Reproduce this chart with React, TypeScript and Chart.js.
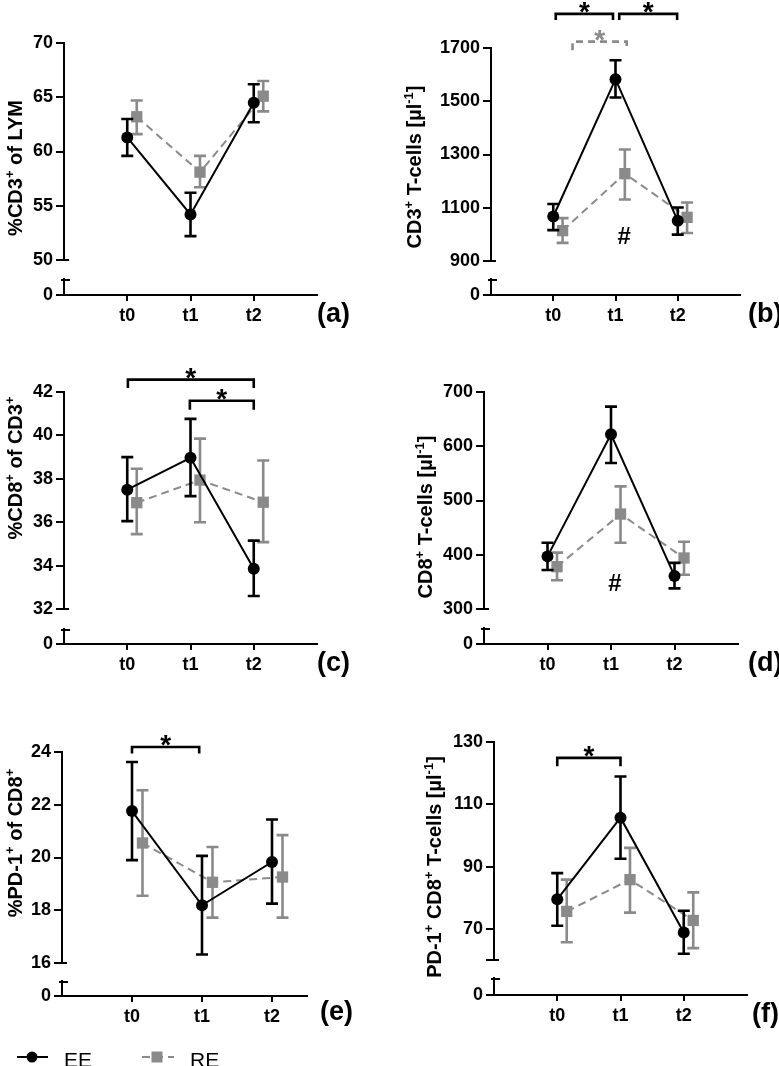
import React, { useEffect, useRef } from 'react';
import { Chart, registerables } from 'chart.js';

Chart.register(...registerables);

const FONT = '"Liberation Sans", Arial, Helvetica, sans-serif';
const BLACK = '#000000';
const GRAY = '#8a8a8a';

const timeLabels = ['t0', 't1', 't2'];
const timePos = [0, 1, 2];
const reShift = 0.15;
const lowerTicks = [0];
const lowerLabels = ['0'];

// (a) %CD3+ of LYM
const aTicks = [50, 55, 60, 65, 70];
const aTickLabels = ['50', '55', '60', '65', '70'];
const aEE = [61.3, 54.2, 64.5];
const aEELo = [59.6, 52.2, 62.7];
const aEEHi = [63.0, 56.2, 66.2];
const aRE = [63.2, 58.1, 65.1];
const aRELo = [61.6, 56.7, 63.7];
const aREHi = [64.7, 59.6, 66.5];

// (b) CD3+ T-cells [µl-1]
const bTicks = [900, 1100, 1300, 1500, 1700];
const bTickLabels = ['900', '1100', '1300', '1500', '1700'];
const bEE = [1067, 1583, 1051];
const bEELo = [1016, 1514, 999];
const bEEHi = [1114, 1654, 1101];
const bRE = [1014, 1228, 1064];
const bRELo = [968, 1131, 1005];
const bREHi = [1061, 1319, 1120];
const bBrFrom = [0.04, 1.06, 0.31];
const bBrTo = [0.96, 1.99, 1.18];
const bBrY = [1828, 1828, 1724];
const bBrEnd = [1805, 1805, 1692];
const bBrGray = [false, false, true];
const bHashX = [1.14];
const bHashY = [987];

// (c) %CD8+ of CD3+
const cTicks = [32, 34, 36, 38, 40, 42];
const cTickLabels = ['32', '34', '36', '38', '40', '42'];
const cEE = [37.5, 38.97, 33.85];
const cEELo = [36.05, 37.2, 32.6];
const cEEHi = [39.0, 40.76, 35.15];
const cRE = [36.9, 37.94, 36.92];
const cRELo = [35.45, 36.0, 35.08];
const cREHi = [38.46, 39.85, 38.84];
const cBrFrom = [0.01, 0.99];
const cBrTo = [2.0, 2.0];
const cBrY = [42.57, 41.6];
const cBrEnd = [42.18, 41.18];
const cBrGray = [false, false];

// (d) CD8+ T-cells [µl-1]
const dTicks = [300, 400, 500, 600, 700];
const dTickLabels = ['300', '400', '500', '600', '700'];
const dEE = [397, 622, 361];
const dEELo = [372, 569, 338];
const dEEHi = [422, 673, 385];
const dRE = [378, 475, 394];
const dRELo = [353, 422, 363];
const dREHi = [404, 526, 424];
const dHashX = [1.06];
const dHashY = [345];

// (e) %PD-1+ of CD8+
const eTicks = [16, 18, 20, 22, 24];
const eTickLabels = ['16', '18', '20', '22', '24'];
const eEE = [21.76, 18.19, 19.83];
const eEELo = [19.9, 16.32, 18.25];
const eEEHi = [23.62, 20.06, 21.44];
const eRE = [20.55, 19.06, 19.26];
const eRELo = [18.55, 17.72, 17.72];
const eREHi = [22.55, 20.4, 20.85];
const eBrFrom = [0.0];
const eBrTo = [0.96];
const eBrY = [24.19];
const eBrEnd = [23.94];
const eBrGray = [false];

// (f) PD-1+ CD8+ T-cells [µl-1]
const fTicks = [60, 70, 90, 110, 130];
const fTickLabels = ['', '70', '90', '110', '130'];
const fEE = [79.5, 105.7, 68.8];
const fEELo = [71, 92.5, 62];
const fEEHi = [87.9, 118.9, 75.8];
const fRE = [75.6, 85.8, 72.7];
const fRELo = [65.7, 75.2, 63.8];
const fREHi = [85.8, 96, 81.7];
const fBrFrom = [0.0];
const fBrTo = [1.0];
const fBrY = [124.9];
const fBrEnd = [122.2];
const fBrGray = [false];

type Part = [string, boolean];
interface PanelSpec {
  left: number; top: number; w: number; h: number;
  axisX: number; yTop: number; upperBottom: number; lowerTop: number; zeroY: number; xEnd: number;
  xMax: number;
  ticks: number[]; tickLabels: string[];
  ee: number[]; eeLo: number[]; eeHi: number[];
  re: number[]; reLo: number[]; reHi: number[];
  title: Part[]; titleX: number; titleY: number;
  letter: string; letterX: number; letterY: number;
  brFrom: number[]; brTo: number[]; brY: number[]; brEnd: number[]; brGray: boolean[];
  hashX: number[]; hashY: number[];
  legend?: boolean;
}

const panels: PanelSpec[] = [
  {
    left: 0, top: 0, w: 389, h: 340,
    axisX: 64, yTop: 43, upperBottom: 260, lowerTop: 279, zeroY: 295, xEnd: 317, xMax: 3,
    ticks: aTicks, tickLabels: aTickLabels,
    ee: aEE, eeLo: aEELo, eeHi: aEEHi, re: aRE, reLo: aRELo, reHi: aREHi,
    title: [['%CD3', false], ['+', true], [' of LYM', false]], titleX: 22, titleY: 168,
    letter: '(a)', letterX: 317, letterY: 315,
    brFrom: [], brTo: [], brY: [], brEnd: [], brGray: [], hashX: [], hashY: [],
  },
  {
    left: 389, top: 0, w: 390, h: 340,
    axisX: 491, yTop: 48, upperBottom: 261, lowerTop: 279, zeroY: 295, xEnd: 740, xMax: 3,
    ticks: bTicks, tickLabels: bTickLabels,
    ee: bEE, eeLo: bEELo, eeHi: bEEHi, re: bRE, reLo: bRELo, reHi: bREHi,
    title: [['CD3', false], ['+', true], [' T-cells [µl', false], ['-1', true], [']', false]], titleX: 421, titleY: 167,
    letter: '(b)', letterX: 748, letterY: 315,
    brFrom: bBrFrom, brTo: bBrTo, brY: bBrY, brEnd: bBrEnd, brGray: bBrGray, hashX: bHashX, hashY: bHashY,
  },
  {
    left: 0, top: 340, w: 389, h: 360,
    axisX: 64, yTop: 392, upperBottom: 609, lowerTop: 629, zeroY: 644, xEnd: 317, xMax: 3,
    ticks: cTicks, tickLabels: cTickLabels,
    ee: cEE, eeLo: cEELo, eeHi: cEEHi, re: cRE, reLo: cRELo, reHi: cREHi,
    title: [['%CD8', false], ['+', true], [' of CD3', false], ['+', true]], titleX: 22, titleY: 468,
    letter: '(c)', letterX: 317, letterY: 664,
    brFrom: cBrFrom, brTo: cBrTo, brY: cBrY, brEnd: cBrEnd, brGray: cBrGray, hashX: [], hashY: [],
  },
  {
    left: 389, top: 340, w: 390, h: 360,
    axisX: 484, yTop: 392, upperBottom: 609, lowerTop: 628, zeroY: 644, xEnd: 738, xMax: 3,
    ticks: dTicks, tickLabels: dTickLabels,
    ee: dEE, eeLo: dEELo, eeHi: dEEHi, re: dRE, reLo: dRELo, reHi: dREHi,
    title: [['CD8', false], ['+', true], [' T-cells [µl', false], ['-1', true], [']', false]], titleX: 432, titleY: 517,
    letter: '(d)', letterX: 748, letterY: 664,
    brFrom: [], brTo: [], brY: [], brEnd: [], brGray: [], hashX: dHashX, hashY: dHashY,
  },
  {
    left: 0, top: 700, w: 389, h: 366,
    axisX: 62, yTop: 752, upperBottom: 963, lowerTop: 981, zeroY: 996, xEnd: 307, xMax: 2.5,
    ticks: eTicks, tickLabels: eTickLabels,
    ee: eEE, eeLo: eEELo, eeHi: eEEHi, re: eRE, reLo: eRELo, reHi: eREHi,
    title: [['%PD-1', false], ['+', true], [' of CD8', false], ['+', true]], titleX: 22, titleY: 843,
    letter: '(e)', letterX: 320, letterY: 1013,
    brFrom: eBrFrom, brTo: eBrTo, brY: eBrY, brEnd: eBrEnd, brGray: eBrGray, hashX: [], hashY: [],
    legend: true,
  },
  {
    left: 389, top: 700, w: 390, h: 366,
    axisX: 494, yTop: 742, upperBottom: 960, lowerTop: 978, zeroY: 995, xEnd: 747, xMax: 3,
    ticks: fTicks, tickLabels: fTickLabels,
    ee: fEE, eeLo: fEELo, eeHi: fEEHi, re: fRE, reLo: fRELo, reHi: fREHi,
    title: [['PD-1', false], ['+', true], [' CD8', false], ['+', true], [' T-cells [µl', false], ['-1', true], [']', false]], titleX: 441, titleY: 867,
    letter: '(f)', letterX: 752, letterY: 1015,
    brFrom: fBrFrom, brTo: fBrTo, brY: fBrY, brEnd: fBrEnd, brGray: fBrGray, hashX: [], hashY: [],
  },
];

function drawRich(ctx: CanvasRenderingContext2D, parts: Part[], bx: number, cy: number) {
  const main = `bold 20px ${FONT}`;
  const sup = `bold 13px ${FONT}`;
  let total = 0;
  const widths = parts.map(([t, s]) => {
    ctx.font = s ? sup : main;
    const w = ctx.measureText(t).width;
    total += w;
    return w;
  });
  ctx.save();
  ctx.translate(bx, cy);
  ctx.rotate(-Math.PI / 2);
  ctx.fillStyle = BLACK;
  ctx.textAlign = 'left';
  ctx.textBaseline = 'alphabetic';
  let x = -total / 2;
  parts.forEach(([t, s], i) => {
    ctx.font = s ? sup : main;
    ctx.fillText(t, x, s ? -8 : 0);
    x += widths[i];
  });
  ctx.restore();
}

function buildChart(canvas: HTMLCanvasElement, p: PanelSpec) {
  const caLeft = p.axisX - p.left;
  const caTop = p.yTop - p.top;
  const caBottom = p.zeroY - p.top;
  const caRight = p.xEnd - p.left;
  const upperH = p.upperBottom - p.yTop;
  const gapH = p.lowerTop - p.upperBottom;
  const lowerH = p.zeroY - p.lowerTop;
  const tickFont = { family: FONT, size: 18, weight: 'bold' as const };
  const yGrid = { display: true, drawOnChartArea: false, drawTicks: true, tickLength: 8, color: BLACK, lineWidth: 2 };
  const border = { display: true, color: BLACK, width: 2 };

  const decor = {
    id: 'decor',
    afterDatasetDraw(chart: any, args: any) {
      const ds = chart.data.datasets[args.index];
      const ys = chart.scales.y;
      const ctx = chart.ctx as CanvasRenderingContext2D;
      ctx.save();
      ctx.strokeStyle = ds.borderColor;
      ctx.lineWidth = 2.6;
      ctx.setLineDash([]);
      args.meta.data.forEach((pt: any, i: number) => {
        const x = pt.x;
        const y1 = ys.getPixelForValue(ds.errLo[i]);
        const y2 = ys.getPixelForValue(ds.errHi[i]);
        ctx.beginPath();
        ctx.moveTo(x, y1); ctx.lineTo(x, y2);
        ctx.moveTo(x - 6, y1); ctx.lineTo(x + 6, y1);
        ctx.moveTo(x - 6, y2); ctx.lineTo(x + 6, y2);
        ctx.stroke();
      });
      ctx.restore();
    },
    afterDraw(chart: any) {
      const ctx = chart.ctx as CanvasRenderingContext2D;
      const xs = chart.scales.x;
      const ys = chart.scales.y;
      const y0 = chart.scales.y0;
      const ax = chart.chartArea.left;
      ctx.save();
      // axis break caps
      ctx.strokeStyle = BLACK;
      ctx.lineWidth = 2;
      ctx.beginPath();
      ctx.moveTo(ax - 8, ys.bottom); ctx.lineTo(ax + 5, ys.bottom);
      ctx.moveTo(ax - 3, y0.top + 1); ctx.lineTo(ax + 6, y0.top + 1);
      ctx.stroke();
      // significance brackets
      p.brFrom.forEach((f, i) => {
        const col = p.brGray[i] ? GRAY : BLACK;
        const x1 = xs.getPixelForValue(f);
        const x2 = xs.getPixelForValue(p.brTo[i]);
        const yb = ys.getPixelForValue(p.brY[i]);
        const ye = ys.getPixelForValue(p.brEnd[i]);
        ctx.strokeStyle = col;
        ctx.lineWidth = 2.6;
        ctx.setLineDash(p.brGray[i] ? [7, 5] : []);
        ctx.beginPath();
        ctx.moveTo(x1, ye); ctx.lineTo(x1, yb); ctx.lineTo(x2, yb); ctx.lineTo(x2, ye);
        ctx.stroke();
        ctx.setLineDash([]);
        ctx.fillStyle = col;
        ctx.font = `bold 28px ${FONT}`;
        ctx.textAlign = 'center';
        ctx.textBaseline = 'alphabetic';
        ctx.fillText('*', (x1 + x2) / 2, yb + 7);
      });
      // hash marks
      p.hashX.forEach((hx, i) => {
        ctx.fillStyle = BLACK;
        ctx.font = `bold 24px ${FONT}`;
        ctx.textAlign = 'center';
        ctx.textBaseline = 'middle';
        ctx.fillText('#', xs.getPixelForValue(hx), ys.getPixelForValue(p.hashY[i]));
      });
      // axis title
      drawRich(ctx, p.title, p.titleX - p.left, p.titleY - p.top);
      // panel letter
      ctx.fillStyle = BLACK;
      ctx.font = `bold 27px ${FONT}`;
      ctx.textAlign = 'left';
      ctx.textBaseline = 'middle';
      ctx.fillText(p.letter, p.letterX - p.left, p.letterY - p.top);
      // legend
      if (p.legend) {
        const ly = 1057 - p.top;
        const d0 = chart.data.datasets[0];
        const d1 = chart.data.datasets[1];
        ctx.strokeStyle = BLACK;
        ctx.lineWidth = 2;
        ctx.beginPath(); ctx.moveTo(17, ly); ctx.lineTo(48, ly); ctx.stroke();
        ctx.fillStyle = BLACK;
        ctx.beginPath(); ctx.arc(32, ly, 5.5, 0, Math.PI * 2); ctx.fill();
        ctx.font = `21px ${FONT}`;
        ctx.textAlign = 'left';
        ctx.textBaseline = 'alphabetic';
        ctx.fillText(d0.label, 64, ly + 10);
        ctx.strokeStyle = GRAY;
        ctx.setLineDash([8, 5]);
        ctx.beginPath(); ctx.moveTo(142, ly); ctx.lineTo(174, ly); ctx.stroke();
        ctx.setLineDash([]);
        ctx.fillStyle = GRAY;
        ctx.fillRect(151.5, ly - 5.5, 11, 11);
        ctx.fillStyle = BLACK;
        ctx.fillText(d1.label, 190, ly + 10);
      }
      ctx.restore();
    },
  };

  return new Chart(canvas, {
    type: 'line',
    data: {
      datasets: [
        {
          label: 'EE',
          data: timePos.map((x, i) => ({ x, y: p.ee[i] })),
          errLo: p.eeLo, errHi: p.eeHi,
          borderColor: BLACK, backgroundColor: BLACK,
          pointBackgroundColor: BLACK, pointBorderColor: BLACK,
          borderWidth: 2, pointRadius: 6, pointBorderWidth: 0, pointStyle: 'circle',
          tension: 0, yAxisID: 'y', xAxisID: 'x', clip: false,
        } as any,
        {
          label: 'RE',
          data: timePos.map((x, i) => ({ x: x + reShift, y: p.re[i] })),
          errLo: p.reLo, errHi: p.reHi,
          borderColor: GRAY, backgroundColor: GRAY,
          pointBackgroundColor: GRAY, pointBorderColor: GRAY,
          borderWidth: 2, borderDash: [8, 5], pointRadius: 8, pointBorderWidth: 0, pointStyle: 'rect',
          tension: 0, yAxisID: 'y', xAxisID: 'x', clip: false,
        } as any,
      ],
    },
    options: {
      animation: false,
      responsive: false,
      devicePixelRatio: 1,
      layout: { padding: { left: 0, top: caTop, right: p.w - caRight, bottom: 0 } },
      plugins: { legend: { display: false }, tooltip: { enabled: false } },
      scales: {
        x: {
          type: 'linear', position: 'bottom', min: -1, max: p.xMax,
          afterBuildTicks: (s: any) => { s.ticks = timePos.map((v) => ({ value: v })); },
          afterFit: (s: any) => { s.height = p.h - caBottom; },
          ticks: {
            callback: (_v: any, i: number) => timeLabels[i] ?? '',
            font: tickFont, color: BLACK, padding: 4, maxRotation: 0, autoSkip: false,
          },
          grid: { display: true, drawOnChartArea: false, drawTicks: true, tickLength: 6, color: BLACK, lineWidth: 2 },
          border,
        },
        y: {
          type: 'linear', position: 'left', stack: 'v', stackWeight: upperH, weight: 3,
          min: p.ticks[0], max: p.ticks[p.ticks.length - 1],
          afterBuildTicks: (s: any) => { s.ticks = p.ticks.map((v) => ({ value: v })); },
          afterFit: (s: any) => { s.width = caLeft; },
          ticks: {
            callback: (_v: any, i: number) => p.tickLabels[i] ?? '',
            font: tickFont, color: BLACK, padding: 3, autoSkip: false,
          },
          grid: yGrid,
          border,
        },
        yGap: {
          type: 'linear', position: 'left', stack: 'v', stackWeight: gapH, weight: 2,
          min: 0, max: 1,
          afterFit: (s: any) => { s.width = caLeft; },
          ticks: { display: false },
          grid: { display: false },
          border: { display: false },
        },
        y0: {
          type: 'linear', position: 'left', stack: 'v', stackWeight: lowerH, weight: 1,
          min: 0, max: 1,
          afterBuildTicks: (s: any) => { s.ticks = lowerTicks.map((v) => ({ value: v })); },
          afterFit: (s: any) => { s.width = caLeft; },
          ticks: {
            callback: (_v: any, i: number) => lowerLabels[i] ?? '',
            font: tickFont, color: BLACK, padding: 3, autoSkip: false,
          },
          grid: yGrid,
          border,
        },
      },
    } as any,
    plugins: [decor as any],
  });
}

function Panel({ p }: { p: PanelSpec }) {
  const ref = useRef<HTMLCanvasElement>(null);
  useEffect(() => {
    if (!ref.current) return;
    const chart = buildChart(ref.current, p);
    return () => chart.destroy();
  }, [p]);
  return (
    <canvas
      ref={ref}
      width={p.w}
      height={p.h}
      style={{ position: 'absolute', left: p.left, top: p.top, width: p.w, height: p.h, display: 'block' }}
    />
  );
}

export default function App() {
  return (
    <div style={{ position: 'absolute', left: 0, top: 0, width: 779, height: 1066, background: '#ffffff', overflow: 'hidden' }}>
      {panels.map((p, i) => (
        <Panel key={i} p={p} />
      ))}
    </div>
  );
}
